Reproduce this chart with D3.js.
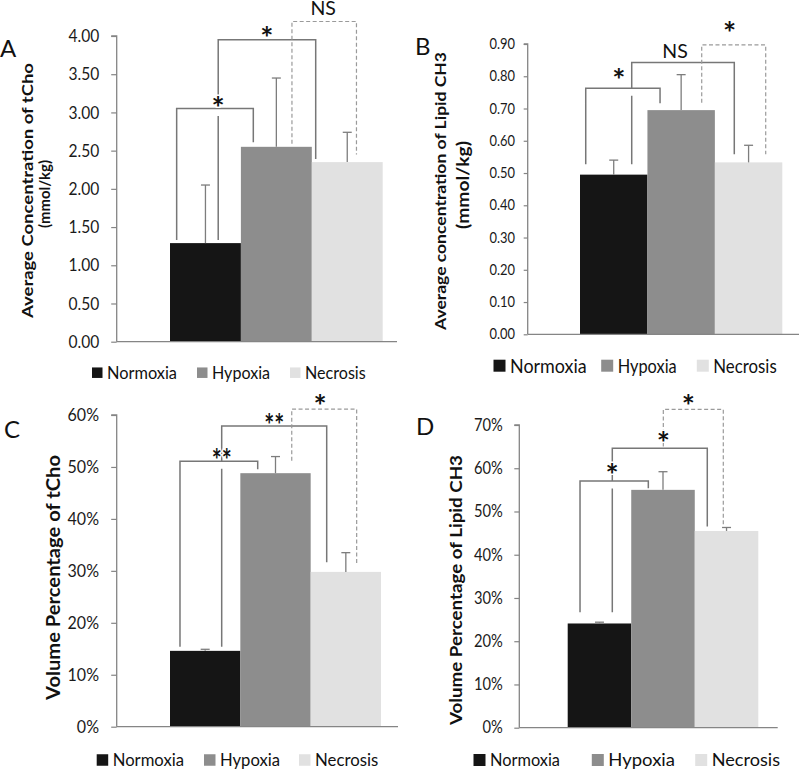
<!DOCTYPE html>
<html><head><meta charset="utf-8">
<script src="https://cdn.jsdelivr.net/npm/d3@7"></script>
<style>body{margin:0;background:#fff}svg{display:block}</style>
</head><body>
<svg id="c" width="800" height="769"></svg>
<script>
// ---------------- DATA ----------------
const series = ["Normoxia", "Hypoxia", "Necrosis"];
const seriesColors = ["#151515", "#8d8d8d", "#e1e1e1"];

// A: Average concentration of tCho (mmol/kg)
const tChoConc = [1.29, 2.55, 2.35];
const tChoConcErr = [0.76, 0.90, 0.39];
const ticksA = [0, 0.5, 1, 1.5, 2, 2.5, 3, 3.5, 4];
// B: Average concentration of Lipid CH3 (mmol/kg)
const lipidConc = [0.495, 0.695, 0.533];
const lipidConcErr = [0.045, 0.11, 0.053];
const ticksB = [0, 0.1, 0.2, 0.3, 0.4, 0.5, 0.6, 0.7, 0.8, 0.9];
// C: Volume percentage of tCho
const tChoVol = [0.146, 0.488, 0.298];
const tChoVolErr = [0.003, 0.032, 0.037];
const ticksC = [0, 0.1, 0.2, 0.3, 0.4, 0.5, 0.6];
// D: Volume percentage of Lipid CH3
const lipidVol = [0.241, 0.55, 0.455];
const lipidVolErr = [0.003, 0.042, 0.008];
const ticksD = [0, 0.1, 0.2, 0.3, 0.4, 0.5, 0.6, 0.7];

// significance brackets: groups a,b; level/ends in data units
const bracketsA = [
  {a:0, b:1, level:3.05, aEnd:1.33, bEnd:2.61, label:"*"},
  {a:0, b:2, level:3.95, aEnd:1.33, bEnd:2.39, label:"*", gap:3.05},
  {a:1, b:2, level:4.19, aEnd:2.59, bEnd:2.45, label:"NS", dashed:true}
];
const bracketsB = [
  {a:0, b:1, level:0.7625, aEnd:0.527, bEnd:0.716, label:"*"},
  {a:0, b:2, level:0.843, aEnd:0.527, bEnd:0.558, label:"NS", gap:0.7625},
  {a:1, b:2, level:0.897, aEnd:0.718, bEnd:0.558, label:"*", dashed:true}
];
const bracketsC = [
  {a:0, b:1, level:0.511, aEnd:0.154, bEnd:0.4955, label:"**"},
  {a:0, b:2, level:0.579, aEnd:0.154, bEnd:0.3165, label:"**", gap:0.511},
  {a:1, b:2, level:0.6115, aEnd:0.512, bEnd:0.3145, label:"*", dashed:true}
];
const bracketsD = [
  {a:0, b:1, level:0.5705, aEnd:0.267, bEnd:0.5537, label:"*"},
  {a:0, b:2, level:0.646, aEnd:0.267, bEnd:0.465, label:"*", gap:0.5705},
  {a:1, b:2, level:0.736, aEnd:0.65, bEnd:0.465, label:"*", dashed:true}
];

// ---------------- LAYOUT ----------------
const FONT = "Lato, 'Open Sans', 'Liberation Sans', sans-serif";
const SQUEEZE = 0.89; // horizontal compression to mimic a narrower face
const panels = [
  {letter:"A", values:tChoConc, errs:tChoConcErr, ticks:ticksA, fmt:d3.format(".2f"), brackets:bracketsA,
   axisX:116.7, xEnd:397, yRange:[341.7, 36], band:[170, 382.7], tickSize:5.5, tickPad:12, tickFont:17.5,
   letterPos:[0, 57],
   titles:[{t:"Average Concentration of  tCho", x:32.5, y:190.5, len:255, fs:15},
           {t:"(mmol/kg)", x:49.5, y:194, len:68, fs:15.5}],
   legend:{y:372.7, fs:17.5, sq:10.5, items:[{x:107, len:70},{x:212, len:58},{x:305, len:60.7}]},
   legFrac:[[0.094,0.175],[0.68,0.055],[0.72,0.63]], lab:[[3,6],[0,7],[-1,6]]},
  {letter:"B", values:lipidConc, errs:lipidConcErr, ticks:ticksB, fmt:d3.format(".2f"), brackets:bracketsB,
   axisX:527.7, xEnd:799, yRange:[334.3, 44], band:[580, 782.3], tickSize:4, tickPad:8.7, tickFont:14.5,
   letterPos:[415, 55],
   titles:[{t:"Average concentration of Lipid CH3", x:446, y:191, len:278, fs:16},
           {t:"(mmol/kg)", x:469, y:185, len:88, fs:17}],
   legend:{y:365.7, fs:19, sq:12, items:[{x:510, len:76.7},{x:617.7, len:59},{x:713.3, len:63.4}]},
   legFrac:[[0.085,0.187],[0.767,0.288],[0.805,0.754]], lab:[[-4,13],[-8,4],[-4,17]]},
  {letter:"C", values:tChoVol, errs:tChoVolErr, ticks:ticksC, fmt:d3.format(".0%"), brackets:bracketsC,
   axisX:116.7, xEnd:398, yRange:[726.7, 415], band:[170, 381], tickSize:5.5, tickPad:12.2, tickFont:18,
   letterPos:[4, 438],
   titles:[{t:"Volume Percentage of  tCho", x:60, y:577.5, len:245, fs:18}],
   legend:{y:760, fs:18, sq:11.5, items:[{x:112.7, len:71.3},{x:220, len:60},{x:315, len:63.3}]},
   legFrac:[[0.142,0.247],[0.735,0.228],[0.731,0.654]], lab:[[3,6],[0,6.5],[-4,8]]},
  {letter:"D", values:lipidVol, errs:lipidVolErr, ticks:ticksD, fmt:d3.format(".0%"), brackets:bracketsD,
   axisX:519.3, xEnd:777.7, yRange:[727.7, 425], band:[567.7, 758.3], tickSize:5, tickPad:11.6, tickFont:16.5,
   letterPos:[416, 435],
   titles:[{t:"Volume Percentage of Lipid CH3", x:461.5, y:590, len:270, fs:17}],
   legend:{y:760, fs:17.5, sq:12, items:[{x:490, len:70},{x:608.3, len:66.7},{x:711.7, len:68.3}]},
   legFrac:[[0.194,0.269],[0.702,0.197],[0.505,0.449]], lab:[[-2,11],[3.5,10],[-5,9]]}
];

const svg = d3.select("#c");
svg.append("rect").attr("width", 800).attr("height", 769).attr("fill", "#fff");
const AXIS = "#858585";

panels.forEach(p => {
  const g = svg.append("g");
  const y = d3.scaleLinear().domain([0, p.ticks[p.ticks.length - 1]]).range(p.yRange);
  const x = d3.scaleBand().domain(series).range(p.band).padding(0);
  const bw = x.bandwidth();

  // bars
  g.selectAll("rect.bar").data(p.values).join("rect")
    .attr("x", (d, i) => x(series[i])).attr("width", bw)
    .attr("y", d => y(d)).attr("height", d => y(0) - y(d))
    .attr("fill", (d, i) => seriesColors[i]);

  // error bars
  const eb = g.append("g").attr("stroke", "#7d7d7d").attr("stroke-width", 1.3);
  p.values.forEach((v, i) => {
    const cx = x(series[i]) + bw / 2;
    eb.append("line").attr("x1", cx).attr("x2", cx).attr("y1", y(v)).attr("y2", y(v + p.errs[i]));
    eb.append("line").attr("x1", cx - 4.5).attr("x2", cx + 4.5).attr("y1", y(v + p.errs[i])).attr("y2", y(v + p.errs[i]));
  });

  // y axis
  const ax = g.append("g").attr("transform", `translate(${p.axisX},0)`)
    .call(d3.axisLeft(y).tickValues(p.ticks).tickFormat(p.fmt).tickSize(p.tickSize).tickPadding(p.tickPad));
  ax.select(".domain").attr("stroke", AXIS).attr("stroke-width", 1.3).attr("d", `M-${p.tickSize},${y(p.ticks[p.ticks.length-1])}H0V${y(0)}`);
  ax.selectAll(".tick line").attr("stroke", AXIS).attr("stroke-width", 1.2);
  ax.selectAll(".tick text").attr("fill", "#1a1a1a").style("font-family", FONT).style("font-size", p.tickFont + "px")
    .each(function() {
      const w = this.getComputedTextLength();
      d3.select(this).attr("textLength", w * SQUEEZE).attr("lengthAdjust", "spacingAndGlyphs");
    });
  // x axis line
  g.append("line").attr("x1", p.axisX).attr("x2", p.xEnd).attr("y1", y(0)).attr("y2", y(0))
    .attr("stroke", AXIS).attr("stroke-width", 1.3);

  // brackets
  const bl = g.append("g").attr("fill", "none");
  const labels = [];
  p.brackets.forEach((b, k) => {
    const xa = x(series[b.a]) + p.legFrac[k][0] * bw;
    const xb = x(series[b.b]) + p.legFrac[k][1] * bw;
    const yl = y(b.level);
    const st = b.dashed ? {c:"#9a9a9a", w:1.2, da:"4,2.5"} : {c:"#777", w:1.5, da:null};
    let d;
    if (b.gap !== undefined) {
      d = `M${xa},${y(b.gap)}V${yl}H${xb}V${y(b.bEnd)}M${xa},${y(b.gap) + 7.5}V${y(b.aEnd)}`;
    } else {
      d = `M${xa},${y(b.aEnd)}V${yl}H${xb}V${y(b.bEnd)}`;
    }
    bl.append("path").attr("d", d).attr("stroke", st.c).attr("stroke-width", st.w)
      .attr("stroke-dasharray", st.da);
    labels.push({t:b.label, x:(xa + xb) / 2 + p.lab[k][0], y:yl - p.lab[k][1]});
  });
  labels.forEach(l => {
    const isNS = l.t === "NS";
    const fs = isNS ? 19.5 : 31;
    const tx = g.append("text").text(l.t)
      .attr("x", l.x).attr("y", isNS ? l.y : l.y + 0.52 * fs)
      .attr("text-anchor", "middle")
      .style("font-family", FONT).style("font-size", fs + "px")
      .style("font-weight", isNS ? "normal" : "bold")
      .attr("fill", "#111")
      .attr("stroke", "#fff").attr("stroke-width", 3).attr("paint-order", "stroke");
    if (l.t === "**") tx.attr("textLength", 20).attr("lengthAdjust", "spacingAndGlyphs");
  });

  // panel letter
  g.append("text").text(p.letter).attr("x", p.letterPos[0]).attr("y", p.letterPos[1])
    .style("font-family", FONT).style("font-size", "24px").attr("fill", "#111");

  // y titles
  p.titles.forEach(t => {
    g.append("text").text(t.t)
      .attr("transform", `translate(${t.x},${t.y}) rotate(-90)`)
      .attr("text-anchor", "middle")
      .attr("textLength", t.len).attr("lengthAdjust", "spacingAndGlyphs")
      .style("font-family", FONT).style("font-size", t.fs + "px").style("font-weight", "bold")
      .attr("fill", "#111");
  });

  // legend
  const L = p.legend;
  series.forEach((s, i) => {
    const it = L.items[i];
    g.append("rect").attr("x", it.x - 4.5 - L.sq).attr("y", L.y - L.sq / 2)
      .attr("width", L.sq).attr("height", L.sq).attr("fill", seriesColors[i]);
    g.append("text").text(s).attr("x", it.x).attr("y", L.y + 0.36 * L.fs)
      .attr("textLength", it.len).attr("lengthAdjust", "spacingAndGlyphs")
      .style("font-family", FONT).style("font-size", L.fs + "px").attr("fill", "#111");
  });
});
</script>
</body></html>
